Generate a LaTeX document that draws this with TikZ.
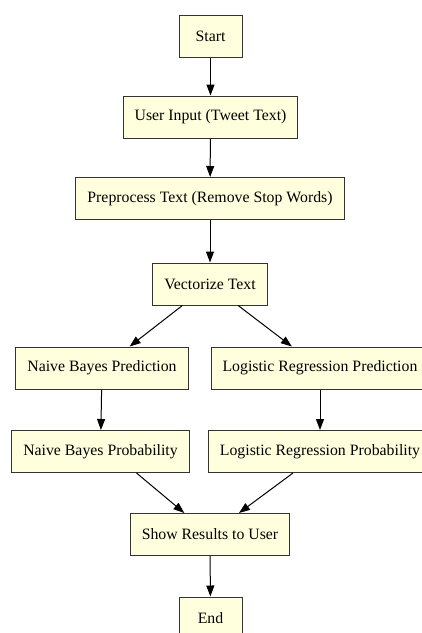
\documentclass[tikz,border=0pt]{standalone}
\usepackage{fontspec}
\setmainfont{Liberation Serif}
\usetikzlibrary{arrows.meta}

\definecolor{boxfill}{HTML}{FFFFDD}

\tikzset{
  stepbox/.style={draw=black!80, line width=1pt, fill=boxfill, rectangle,
    minimum height=42pt, minimum width=63pt, inner xsep=11.5pt,
    font=\fontsize{15.8}{18}\selectfont, text=black},
  flow/.style={-{Triangle[length=11pt,width=8pt]}, line width=1pt}
}

\begin{document}
\begin{tikzpicture}[x=1pt, y=-1pt]
				\path[use as bounding box, clip] (0,0) rectangle (422,633);

				% Nodes
				\node[stepbox] (start) at (210.5, 36) {Start};
				\node[stepbox] (input) at (210.5, 117) {User Input (Tweet Text)};
				\node[stepbox] (prep) at (210, 198.5) {Preprocess Text (Remove Stop Words)};
				\node[stepbox] (vec) at (210, 284) {Vectorize Text};
				\node[stepbox] (nbpred) at (102, 368) {Naive Bayes Prediction};
				\node[stepbox] (lrpred) at (320, 368) {Logistic Regression Prediction};
				\node[stepbox] (nbprob) at (100.5, 451.5) {Naive Bayes Probability};
				\node[stepbox] (lrprob) at (320, 451.5) {Logistic Regression Probability};
				\node[stepbox] (show) at (210, 534.5) {Show Results to User};
				\node[stepbox] (end) at (210.5, 618) {End};

				% Edges
				\draw[flow] (start) -- (input);
				\draw[flow] (input) -- (prep);
				\draw[flow] (prep) -- (vec);
				\draw[flow] (vec) -- (nbpred);
				\draw[flow] (vec) -- (lrpred);
				\draw[flow] (nbpred) -- (nbprob);
				\draw[flow] (lrpred) -- (lrprob);
				\draw[flow] (nbprob.south) ++(36,0) -- (show);
				\draw[flow] (lrprob.south) ++(-27,0) -- (show);
				\draw[flow] (show) -- (end);
			\end{tikzpicture}
\end{document}
